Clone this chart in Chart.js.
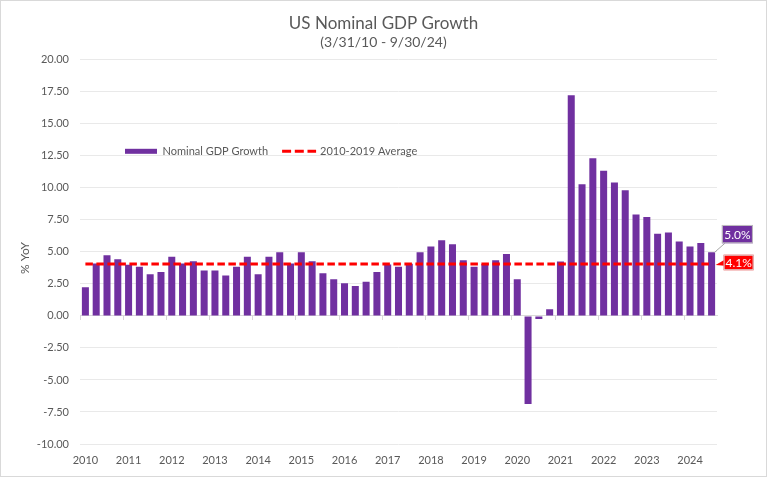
<!DOCTYPE html>
<html>
<head>
<meta charset="utf-8">
<script src="https://cdn.jsdelivr.net/npm/chart.js@4/dist/chart.umd.min.js"></script>
<style>
  html, body { margin: 0; padding: 0; background: #ffffff; }
  #wrap { width: 767px; height: 477px; border: 1px solid #d9d9d9; box-sizing: border-box; }
  canvas { display: block; }
</style>
</head>
<body>
<div id="wrap"><canvas id="chart" width="765" height="475"></canvas></div>
<script>
// Quarter-end dates (categories)
const quarterEnds = [
  '3/31/10','6/30/10','9/30/10','12/31/10',
  '3/31/11','6/30/11','9/30/11','12/31/11',
  '3/31/12','6/30/12','9/30/12','12/31/12',
  '3/31/13','6/30/13','9/30/13','12/31/13',
  '3/31/14','6/30/14','9/30/14','12/31/14',
  '3/31/15','6/30/15','9/30/15','12/31/15',
  '3/31/16','6/30/16','9/30/16','12/31/16',
  '3/31/17','6/30/17','9/30/17','12/31/17',
  '3/31/18','6/30/18','9/30/18','12/31/18',
  '3/31/19','6/30/19','9/30/19','12/31/19',
  '3/31/20','6/30/20','9/30/20','12/31/20',
  '3/31/21','6/30/21','9/30/21','12/31/21',
  '3/31/22','6/30/22','9/30/22','12/31/22',
  '3/31/23','6/30/23','9/30/23','12/31/23',
  '3/31/24','6/30/24','9/30/24'
];

// Year tick labels (one per four quarters)
const yearTicks = ['2010','2011','2012','2013','2014','2015','2016','2017','2018','2019','2020','2021','2022','2023','2024'];

// Nominal GDP growth, % YoY
const nominalGdpGrowth = [
  2.24, 4.10, 4.74, 4.43,
  4.00, 3.85, 3.26, 3.44,
  4.63, 4.10, 4.27, 3.54,
  3.54, 3.15, 3.85, 4.63,
  3.26, 4.63, 4.97, 4.10,
  4.97, 4.27, 3.33, 2.86,
  2.55, 2.34, 2.66, 3.44,
  4.02, 3.85, 4.08, 4.97,
  5.42, 5.91, 5.60, 4.35,
  3.85, 4.05, 4.35, 4.84,
  2.86, -6.88, -0.23, 0.53,
  4.25, 17.24, 10.29, 12.32,
  11.33, 10.42, 9.82, 7.92,
  7.73, 6.41, 6.51, 5.81,
  5.42, 5.70, 4.97
];

// 2010-2019 average, drawn across every quarter
const avg2010to2019 = [
  4.06, 4.06, 4.06, 4.06, 4.06, 4.06, 4.06, 4.06, 4.06, 4.06,
  4.06, 4.06, 4.06, 4.06, 4.06, 4.06, 4.06, 4.06, 4.06, 4.06,
  4.06, 4.06, 4.06, 4.06, 4.06, 4.06, 4.06, 4.06, 4.06, 4.06,
  4.06, 4.06, 4.06, 4.06, 4.06, 4.06, 4.06, 4.06, 4.06, 4.06,
  4.06, 4.06, 4.06, 4.06, 4.06, 4.06, 4.06, 4.06, 4.06, 4.06,
  4.06, 4.06, 4.06, 4.06, 4.06, 4.06, 4.06, 4.06, 4.06
];

// Y axis range
const yMin = -10;
const yMax = 20;
const yStep = 2.5;

const TEXT = '#595959';
const PURPLE = '#7030a0';
const RED = '#ff0000';

Chart.defaults.font.family = 'Lato, "Open Sans", sans-serif';
Chart.defaults.color = TEXT;

// Legend drawn inside the plot area
const insideLegend = {
  id: 'insideLegend',
  afterDatasetsDraw(chart) {
    const { ctx, chartArea } = chart;
    const ds = chart.data.datasets;
    ctx.save();
    ctx.font = '11px Lato, "Open Sans", sans-serif';
    ctx.textBaseline = 'middle';
    ctx.textAlign = 'left';
    let x = chartArea.left + 45;
    const y = chartArea.top + 91.5;
    ctx.fillStyle = ds[0].backgroundColor;
    ctx.fillRect(x, y - 2.5, 32, 5);
    ctx.fillStyle = TEXT;
    ctx.fillText(ds[0].label, x + 37.5, y + 0.5);
    x += 37.5 + ctx.measureText(ds[0].label).width + 14;
    ctx.strokeStyle = ds[1].borderColor;
    ctx.lineWidth = 3;
    ctx.setLineDash([9, 3.7]);
    ctx.beginPath();
    ctx.moveTo(x, y);
    ctx.lineTo(x + 34, y);
    ctx.stroke();
    ctx.setLineDash([]);
    ctx.fillStyle = TEXT;
    ctx.fillText(ds[1].label, x + 38, y + 0.5);
    ctx.restore();
  }
};

// End-of-series data labels
const endLabels = {
  id: 'endLabels',
  afterDatasetsDraw(chart) {
    const { ctx } = chart;
    const barMeta = chart.getDatasetMeta(0);
    const lineMeta = chart.getDatasetMeta(1);
    const bar = barMeta.data[barMeta.data.length - 1];
    const pt = lineMeta.data[lineMeta.data.length - 1];
    const barVal = chart.data.datasets[0].data[barMeta.data.length - 1];
    const avgVal = chart.data.datasets[1].data[lineMeta.data.length - 1];
    ctx.save();
    ctx.font = '12px Lato, "Open Sans", sans-serif';
    ctx.textAlign = 'center';
    ctx.textBaseline = 'middle';

    // bar label
    const bx = bar.x + 10.3, by = bar.y - 27.3, bw = 31, bh = 18.3;
    ctx.strokeStyle = '#a6a6a6';
    ctx.lineWidth = 1;
    ctx.beginPath();
    ctx.moveTo(bar.x + 3, bar.y);
    ctx.lineTo(bx + 3, by + bh);
    ctx.stroke();
    ctx.fillStyle = PURPLE;
    ctx.fillRect(bx, by, bw, bh);
    ctx.strokeStyle = '#bfbfbf';
    ctx.strokeRect(bx + 0.5, by + 0.5, bw - 1, bh - 1);
    ctx.fillStyle = '#ffffff';
    ctx.fillText(barVal.toFixed(1) + '%', bx + bw / 2, by + bh / 2 + 0.5);

    // average label (callout)
    const lx = pt.x + 12, ly = pt.y - 9.2, lw = 30, lh = 15.5;
    ctx.fillStyle = RED;
    ctx.beginPath();
    ctx.moveTo(lx + 1, ly + 5);
    ctx.lineTo(pt.x + 4, pt.y + 1);
    ctx.lineTo(lx + 1, ly + 11);
    ctx.closePath();
    ctx.fill();
    ctx.fillRect(lx, ly, lw, lh);
    ctx.strokeStyle = '#d9d9d9';
    ctx.strokeRect(lx + 0.5, ly + 0.5, lw - 1, lh - 1);
    ctx.fillStyle = '#ffffff';
    ctx.fillText(avgVal.toFixed(1) + '%', lx + lw / 2, ly + lh / 2 + 0.5);
    ctx.restore();
  }
};

new Chart(document.getElementById('chart'), {
  type: 'bar',
  data: {
    labels: quarterEnds,
    datasets: [
      {
        type: 'bar',
        label: 'Nominal GDP Growth',
        data: nominalGdpGrowth,
        backgroundColor: PURPLE,
        borderWidth: 0,
        barPercentage: 0.65,
        categoryPercentage: 1,
        order: 2
      },
      {
        type: 'line',
        label: '2010-2019 Average',
        data: avg2010to2019,
        borderColor: RED,
        backgroundColor: RED,
        borderWidth: 3,
        borderDash: [7.5, 3.5],
        pointRadius: 0,
        fill: false,
        tension: 0,
        order: 1
      }
    ]
  },
  options: {
    responsive: false,
    animation: false,
    layout: { padding: 0 },
    plugins: {
      legend: { display: false },
      tooltip: { enabled: false },
      title: {
        display: true,
        text: 'US Nominal GDP Growth',
        color: TEXT,
        font: { size: 17, weight: 'normal' },
        padding: { top: 12, bottom: 1 }
      },
      subtitle: {
        display: true,
        text: '(3/31/10 - 9/30/24)',
        color: TEXT,
        font: { size: 14, weight: 'normal' },
        padding: { top: 0, bottom: 8.6 }
      }
    },
    scales: {
      x: {
        type: 'category',
        position: 'bottom',
        offset: true,
        grid: { display: false, drawTicks: false },
        border: { display: false },
        ticks: {
          autoSkip: false,
          maxRotation: 0,
          minRotation: 0,
          color: TEXT,
          font: { size: 11 },
          padding: 10,
          callback: (v, i) => (i % 4 === 0 ? yearTicks[i / 4] : '')
        },
        afterFit(s) { s.height = 32; }
      },
      x0: {
        type: 'category',
        position: { y: 0 },
        offset: true,
        grid: {
          offset: true,
          drawOnChartArea: false,
          drawTicks: true,
          tickLength: 4,
          color: c => (c.index !== undefined && c.index % 4 === 0) ? '#d9d9d9' : 'rgba(0,0,0,0)'
        },
        border: { display: true, color: '#d9d9d9', width: 1 },
        ticks: { display: false, autoSkip: false }
      },
      y: {
        min: yMin,
        max: yMax,
        ticks: {
          stepSize: yStep,
          color: TEXT,
          font: { size: 11 },
          padding: 11,
          callback: v => Number(v).toFixed(2)
        },
        grid: { color: '#e9e9e9', drawTicks: false },
        border: { display: false },
        title: {
          display: true,
          text: '% YoY    ',
          color: TEXT,
          font: { size: 12 },
          padding: { top: 17, bottom: 0 }
        },
        afterFit(s) { s.width = 79; }
      },
      yPad: {
        type: 'linear',
        position: 'right',
        display: true,
        grid: { display: false, drawTicks: false },
        border: { display: false },
        ticks: { display: false },
        afterFit(s) { s.width = 49; }
      }
    }
  },
  plugins: [insideLegend, endLabels]
});
</script>
</body>
</html>
